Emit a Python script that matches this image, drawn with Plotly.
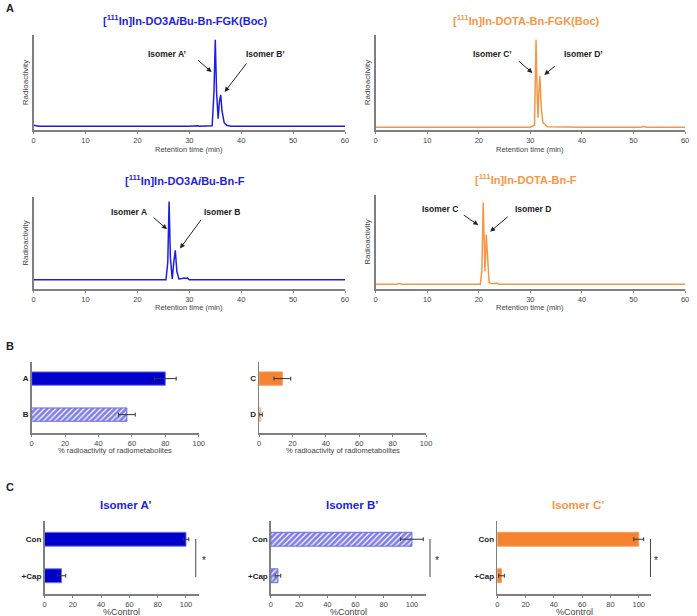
import plotly.graph_objects as go

W, H = 697, 616
FONT = "Liberation Sans, Arial, sans-serif"
BLUE = "#1E1EE0"
BLUE_BAR = "#0000CC"
ORANGE = "#F79646"
ORANGE_BAR = "#F5822F"
AXC = "#7F7F7F"
TICKC = "#444444"

# ---------------- data: chromatograms (retention time min, relative radioactivity %) ----------------
t_fgk_do3a = [0, 0.5, 1, 30, 31.3, 31.6, 32, 34.4, 34.75, 35.0, 35.25, 35.55, 35.8, 36.05, 36.3, 36.7, 37.2, 38, 45, 60]
r_fgk_do3a = [5, 4.5, 4, 4, 5, 4.5, 4, 4.5, 40, 95, 40, 12, 30, 37, 20, 8, 5, 4, 4, 4]

t_fgk_dota = [0, 30, 30.8, 31.1, 31.35, 31.5, 31.65, 31.85, 32.1, 32.4, 32.8, 33.3, 40, 51.5, 52, 52.5, 60]
r_fgk_dota = [3, 3, 5, 95, 30, 13, 40, 57, 25, 8, 6, 3.5, 3, 3, 4, 3, 3]

t_f_do3a = [0, 25.5, 25.85, 26.1, 26.35, 26.7, 27.0, 27.3, 27.6, 28.0, 28.6, 29.0, 29.3, 29.6, 30, 60]
r_f_do3a = [10, 10, 29, 95, 34, 11, 29, 42, 19, 11, 11.5, 12, 11.5, 12, 10, 10]

t_f_dota = [0, 4.2, 4.6, 5, 20.3, 20.6, 20.85, 21.05, 21.2, 21.45, 21.7, 22.0, 22.5, 23.5, 24, 60]
r_f_dota = [5, 5, 6, 5, 5, 20, 92, 40, 19, 58, 29, 7, 5.5, 6, 5, 5]

time_ticks = [0, 10, 20, 30, 40, 50, 60]

# ---------------- data: radiometabolites (panel B) ----------------
metab_do3a_cats = ["A", "B"]
metab_do3a_vals = [80, 57]
metab_do3a_err = [6.5, 5]
metab_dota_cats = ["C", "D"]
metab_dota_vals = [14, 1]
metab_dota_err = [5, 1]

# ---------------- data: captopril inhibition (panel C) ----------------
cap_cats = ["Con", "+Cap"]
isoA_vals = [100, 12]
isoA_err = [2, 3]
isoB_vals = [100, 5]
isoB_err = [8, 2]
isoC_vals = [100, 3]
isoC_err = [3.5, 2]


def pxx(x):
    return x / W


def pyy(y):
    return 1 - y / H


fig = go.Figure()
layout = dict(
    width=W, height=H, margin=dict(l=0, r=0, t=0, b=0),
    paper_bgcolor="white", plot_bgcolor="white",
    showlegend=False, barmode="overlay",
    font=dict(family=FONT, color="#222222"),
)
annotations = []
shapes = []


def text_at(txt, x, y, size, color="#222222"):
    annotations.append(dict(text=txt, xref="paper", yref="paper", x=pxx(x), y=pyy(y),
                            xanchor="center", yanchor="middle", showarrow=False,
                            font=dict(size=size, color=color, family=FONT)))


def chrom_axes(i, x0, x1, y0, y1, xlabel_y):
    xa = dict(domain=[pxx(x0), pxx(x1)], range=[0, 60], anchor="y%d" % i,
              showline=True, linecolor=AXC, linewidth=1.5, ticks="outside", ticklen=2,
              tickcolor=AXC, tickvals=time_ticks, tickfont=dict(size=7.5, color=TICKC),
              showgrid=False, zeroline=False, fixedrange=True)
    ya = dict(domain=[pyy(y1), pyy(y0)], range=[0, 100], anchor="x%d" % i,
              showline=True, linecolor=AXC, linewidth=1.5, ticks="", showticklabels=False,
              showgrid=False, zeroline=False,
              title=dict(text="Radioactivity", font=dict(size=8, color=TICKC), standoff=2))
    layout["xaxis" if i == 1 else "xaxis%d" % i] = xa
    layout["yaxis" if i == 1 else "yaxis%d" % i] = ya
    text_at("Retention time (min)", (x0 + x1) / 2, xlabel_y, 7.5, TICKC)


def ref(i):
    return ("x" if i == 1 else "x%d" % i), ("y" if i == 1 else "y%d" % i)


# Panel A chromatograms
chrom = [
    (1, t_fgk_do3a, r_fgk_do3a, BLUE, 32, 347, 35, 130, 150,
     "[<sup>111</sup>In]In-DO3A<i>i</i>Bu-Bn-FGK(Boc)", 20),
    (2, t_fgk_dota, r_fgk_dota, ORANGE, 378, 691, 35, 130, 150,
     "[<sup>111</sup>In]In-DOTA-Bn-FGK(Boc)", 20),
    (3, t_f_do3a, r_f_do3a, BLUE, 32, 347, 197, 289, 307,
     "[<sup>111</sup>In]In-DO3A<i>i</i>Bu-Bn-F", 180),
    (4, t_f_dota, r_f_dota, ORANGE, 378, 691, 195, 289, 307,
     "[<sup>111</sup>In]In-DOTA-Bn-F", 179),
]
for i, t, r, col, x0, x1, y0, y1, xl, title, ty in chrom:
    chrom_axes(i, x0, x1, y0, y1, xl)
    xr, yr = ref(i)
    fig.add_trace(go.Scatter(x=t, y=r, mode="lines", line=dict(color=col, width=1.5),
                             xaxis=xr, yaxis=yr, hoverinfo="skip"))
    text_at("<b>%s</b>" % title, (x0 + x1) / 2 - 4, ty, 11, col)

# isomer labels + arrows (text pos px, arrow tip in data, tail offset px)
iso_labels = [
    (1, "Isomer A\u2019", 167, 54, 34.3, 61, -15, -13),
    (1, "Isomer B\u2019", 267, 54, 36.8, 40, 23, -30),
    (2, "Isomer C\u2019", 496, 54, 30.4, 60, -15, -13),
    (2, "Isomer D\u2019", 588, 54, 32.7, 58, 12, -10),
    (3, "Isomer A", 128, 212, 25.7, 65, -15, -13),
    (3, "Isomer B", 223, 212, 28.2, 44, 22, -30),
    (4, "Isomer C", 443, 209, 19.9, 68, -16, -11),
    (4, "Isomer D", 537, 209, 22.2, 61, 19, -16),
]
for i, txt, tx, ty, ax_, ay_, dx, dy in iso_labels:
    xr, yr = ref(i)
    text_at("<b>%s</b>" % txt, tx, ty, 8.5)
    annotations.append(dict(text="", xref=xr, yref=yr, x=ax_, y=ay_, ax=dx, ay=dy,
                            showarrow=True, arrowhead=2, arrowsize=1, arrowwidth=1,
                            arrowcolor="#222222"))


def bar_axes(i, x0, x1, y0, y1, xmax, xlabel, xl_y, xl_size, yrange, cats):
    xa = dict(domain=[pxx(x0), pxx(x1)], range=[0, xmax], anchor="y%d" % i,
              showline=True, linecolor=AXC, linewidth=1.5, ticks="outside", ticklen=2,
              tickcolor=AXC, tickvals=[0, 20, 40, 60, 80, 100],
              tickfont=dict(size=7.5, color=TICKC),
              showgrid=False, zeroline=False)
    ya = dict(domain=[pyy(y1), pyy(y0)], range=yrange, anchor="x%d" % i,
              type="category", categoryarray=cats[::-1], categoryorder="array",
              showline=True, linecolor=AXC, linewidth=1.5, ticks="", ticklen=0,
              tickfont=dict(size=8, color="#222222", weight="bold"),
              showgrid=False, zeroline=False)
    layout["xaxis%d" % i] = xa
    layout["yaxis%d" % i] = ya
    text_at(xlabel, (x0 + x1) / 2, xl_y, xl_size, TICKC)


def add_bar(i, cat, val, err, color, hatched, width):
    xr, yr = ref(i)
    if hatched:
        marker = dict(color="white",
                      line=dict(color="#6A6AF0" if color == BLUE_BAR else "#F8B07A", width=1),
                      pattern=dict(shape="/", fgcolor=color, bgcolor="white", size=4, solidity=0.7,
                                   fillmode="overlay"))
    else:
        marker = dict(color=color, line=dict(color="#7070F0" if color == BLUE_BAR else "#F8A060", width=1))
    fig.add_trace(go.Bar(y=[cat], x=[val], orientation="h", width=width, marker=marker,
                         error_x=dict(type="data", array=[err], color="#333333", thickness=1, width=2),
                         xaxis=xr, yaxis=yr, hoverinfo="skip"))


# Panel B
bar_axes(5, 30, 199, 362, 433, 100, "% radioactivity of radiometabolites", 450, 7.5, [-0.51, 1.46], metab_do3a_cats)
bar_axes(6, 260, 429, 362, 433, 100, "% radioactivity of radiometabolites", 450, 7.5, [-0.51, 1.46], metab_dota_cats)
for c, v, e, h in zip(metab_do3a_cats, metab_do3a_vals, metab_do3a_err, [False, True]):
    add_bar(5, c, v, e, BLUE_BAR, h, 0.37)
for c, v, e, h in zip(metab_dota_cats, metab_dota_vals, metab_dota_err, [False, True]):
    add_bar(6, c, v, e, ORANGE_BAR, h, 0.37)

# Panel C
cpanels = [
    (7, 43, 199, 109, isoA_vals, isoA_err, BLUE_BAR, False, "Isomer A\u2019", BLUE, 196, 204),
    (8, 272, 429, 110, isoB_vals, isoB_err, BLUE_BAR, True, "Isomer B\u2019", BLUE, 433, 440),
    (9, 501, 657, 109, isoC_vals, isoC_err, ORANGE_BAR, False, "Isomer C\u2019", ORANGE, 656, 662),
]
for i, x0, x1, xmax, vals, errs, col, hatched, title, tcol, lx, sx in cpanels:
    bar_axes(i, x0, x1, 521, 594, xmax, "%Control", 612, 9, [-0.5, 1.5], cap_cats)
    for c, v, e in zip(cap_cats, vals, errs):
        add_bar(i, c, v, e, col, hatched, 0.38)
    text_at("<b>%s</b>" % title, (x0 + x1) / 2 + 4, 505, 11.5, tcol)
    shapes.append(dict(type="line", xref="paper", yref="paper", x0=pxx(lx), x1=pxx(lx),
                       y0=pyy(539), y1=pyy(577), line=dict(color="#444444", width=1)))
    text_at("*", sx, 560, 10)

# panel letters
for letter, yy in [("A", 8), ("B", 346), ("C", 487)]:
    text_at("<b>%s</b>" % letter, 8, yy, 11)

layout["annotations"] = annotations
layout["shapes"] = shapes
fig.update_layout(**layout)
fig.write_html("out.html", config={"displayModeBar": False, "staticPlot": True},
               post_script="document.body.style.margin='0';document.body.style.overflow='hidden';")
